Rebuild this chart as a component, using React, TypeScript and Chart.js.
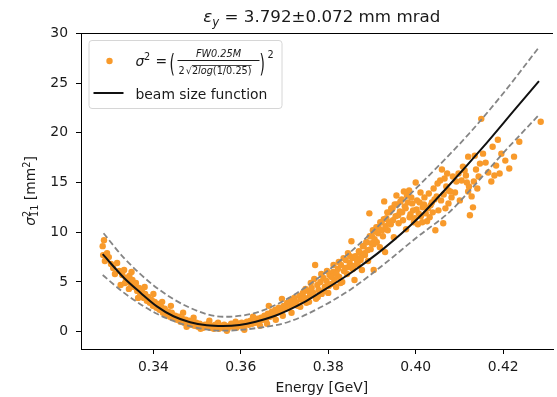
import { useEffect, useRef } from "react";
import { Chart, registerables } from "chart.js";

Chart.register(...registerables);

// ---- data ----
const energyGeV = [
  0.3284, 0.3287, 0.3285, 0.3289, 0.3294, 0.3298, 0.3303, 0.3308, 0.3312, 0.3317, 0.3322, 0.3325, 0.3329, 0.3333, 0.3337,
  0.3341, 0.3345, 0.3349, 0.3352, 0.3356, 0.336, 0.3363, 0.3367, 0.337, 0.3374, 0.3378, 0.3381, 0.3385, 0.3388, 0.3392,
  0.3396, 0.3399, 0.3403, 0.3407, 0.3411, 0.3414, 0.3418, 0.3422, 0.3426, 0.343, 0.3434, 0.3438, 0.3442, 0.3446,
  0.345, 0.3454, 0.3458, 0.3462, 0.3466, 0.347, 0.3474, 0.3478, 0.3482, 0.3486, 0.349, 0.3494, 0.3498, 0.3502, 0.3506,
  0.351, 0.3514, 0.3518, 0.3522, 0.3526, 0.353, 0.3534, 0.3538, 0.3542, 0.3546, 0.355, 0.3554, 0.3558, 0.3562, 0.3566,
  0.357, 0.3574, 0.3578, 0.3582, 0.3586, 0.359, 0.3594, 0.3598, 0.3602, 0.3606, 0.361, 0.3614, 0.3618, 0.3622, 0.3626,
  0.363, 0.3634, 0.3638, 0.3642, 0.3646, 0.365,
  0.3654, 0.3658, 0.3662, 0.3664, 0.3667, 0.3671, 0.3675, 0.3679, 0.3683, 0.3687, 0.3691, 0.3694, 0.3698, 0.3702, 0.3706,
  0.371, 0.3714, 0.3718, 0.3722, 0.3726, 0.373, 0.3734, 0.3738, 0.3742, 0.3746, 0.375, 0.3754, 0.3758, 0.3762, 0.3766,
  0.377, 0.3772, 0.3775, 0.3778,
  0.3782, 0.3785, 0.3789, 0.3792, 0.3796, 0.38, 0.3803, 0.3807, 0.3811, 0.3814, 0.3818, 0.3822, 0.3825, 0.3829, 0.3832,
  0.3836, 0.384, 0.3843, 0.3847, 0.385, 0.3853, 0.3856, 0.386, 0.3863, 0.3867, 0.387, 0.3874, 0.3877, 0.3881, 0.3884,
  0.3888, 0.3891, 0.3894, 0.3897, 0.39, 0.3904, 0.3904,
  0.3908, 0.3911, 0.3915, 0.3918, 0.3922, 0.3925, 0.3928, 0.393, 0.3933, 0.3936, 0.394, 0.3943, 0.3947, 0.395, 0.3954,
  0.3957, 0.3961, 0.3964, 0.3968, 0.3971, 0.3975, 0.3978, 0.398, 0.3985, 0.3988, 0.3992, 0.3996, 0.4, 0.4002, 0.4005,
  0.4009, 0.4012, 0.4016, 0.402, 0.4023, 0.4026, 0.403, 0.4034, 0.4037, 0.4041, 0.4045, 0.4048, 0.4052,
  0.4056, 0.406, 0.4063, 0.4064, 0.4066, 0.407, 0.4075, 0.4075, 0.4079, 0.4085, 0.4093, 0.4098, 0.4105, 0.4108, 0.4115,
  0.412, 0.412, 0.4122, 0.4124, 0.4128, 0.4131, 0.4133, 0.4135, 0.4141, 0.4147, 0.415, 0.4154, 0.4173, 0.4176, 0.418,
  0.4184, 0.4188, 0.4196, 0.4214, 0.4237, 0.4286,
];
const sigma2mm2 = [
  8.6, 9.2, 7.7, 7.1, 7.9, 7.5, 6.8, 6.4, 5.8, 6.9, 6.1, 4.7, 5.7, 6.2, 5.4,
  5.0, 5.6, 4.8, 5.2, 4.5, 4.9, 4.1, 4.4, 3.7, 4.0, 3.4, 3.8, 3.1, 3.5, 2.9,
  3.2, 2.6, 3.0, 2.4, 2.8, 2.2, 2.5, 1.9, 2.3, 1.7, 2.0, 1.5, 1.9, 1.4,
  1.6, 1.2, 1.5, 1.0, 1.3, 0.9, 1.2, 0.8, 1.1, 0.7, 1.0, 0.6, 0.9, 0.5, 0.8,
  0.6, 0.4, 0.7, 0.5, 0.8, 0.4, 0.6, 0.3, 0.7, 0.5, 0.3, 0.6, 0.4, 0.7, 0.5,
  0.3, 0.6, 0.8, 0.5, 0.7, 0.4, 0.8, 0.6, 0.9, 0.5, 0.8, 1.0, 0.7, 1.1, 0.8,
  1.2, 0.9, 1.3, 1.0, 1.4, 1.2,
  1.6, 1.3, 1.8, 2.6, 1.5, 2.0, 1.7, 2.2, 1.9, 2.4, 2.1, 3.3, 2.6, 2.3, 2.9,
  2.5, 3.1, 2.7, 3.4, 3.0, 2.6, 3.6, 3.2, 3.9, 3.4, 2.9, 4.1, 3.6, 4.4, 3.9,
  6.7, 3.3, 4.7, 4.2,
  5.0, 3.8, 5.4, 4.5, 5.1, 3.9, 5.7, 4.8, 6.0, 5.2, 4.5, 6.3, 5.5, 6.7, 5.0,
  6.1, 7.2, 5.8, 6.5, 7.6, 9.1, 6.3, 5.2, 7.4, 6.8, 8.1, 7.2, 6.2, 8.6, 7.7,
  9.0, 7.1, 11.9, 8.3, 9.6, 6.2, 8.8,
  10.1, 9.0, 10.5, 8.5, 11.0, 9.6, 13.1, 8.0, 11.4, 10.2, 12.0, 10.8, 12.4, 9.5, 11.6,
  12.8, 10.9, 12.1, 13.3, 11.2, 12.6, 10.3, 13.7, 14.2, 11.8, 12.9, 11.0, 15.0, 12.3, 10.8,
  13.0, 11.6, 12.5, 13.5, 11.9, 11.1, 13.9, 12.7, 13.0, 14.4, 10.2, 13.6, 12.2,
  15.2, 16.3, 10.9, 13.8, 15.4, 14.6, 12.9, 14.2, 14.1, 15.6, 15.1, 15.9, 15.2, 16.6, 15.7,
  17.6, 14.1, 14.6, 11.7, 13.6, 12.5, 15.1, 17.7, 14.4, 16.9, 21.4, 17.9, 15.1, 18.6, 15.7,
  16.7, 19.3, 17.9, 16.4, 19.1, 21.1,
];

// extra points around the minimum and the left branch
const energyGeVLow = [
  0.3468, 0.3476, 0.3492, 0.3508, 0.3528, 0.3548, 0.3568, 0.3588, 0.3608, 0.3628, 0.3644, 0.366, 0.368,
  0.3696, 0.3716, 0.3736, 0.3748, 0.3756, 0.344, 0.342, 0.34, 0.338, 0.3365, 0.335, 0.3344, 0.3335,
];
const sigma2mm2Low = [
  1.9, 0.5, 1.4, 0.3, 1.1, 0.9, 0.1, 1.0, 0.2, 1.5, 0.6, 0.8, 1.2,
  1.6, 1.9, 2.5, 4.3, 3.0, 2.6, 3.0, 3.8, 4.5, 3.4, 6.0, 4.3, 4.9,
];

// extra points in the dense right branch
const energyGeVHigh = [
  0.376, 0.3768, 0.3776, 0.3784, 0.379, 0.3797, 0.3801, 0.3808, 0.3812, 0.3819,
  0.3824, 0.3828, 0.3835, 0.3839, 0.3845, 0.3849, 0.3855, 0.3858, 0.3862, 0.3866,
  0.3871, 0.3875, 0.3879, 0.3883, 0.3887, 0.389, 0.3895, 0.3899, 0.3902, 0.3906,
  0.391, 0.3914, 0.3919, 0.3923, 0.3927, 0.3931, 0.3935, 0.3939, 0.3944, 0.3948,
  0.3952, 0.3956, 0.396, 0.3965, 0.3969, 0.3973, 0.3977, 0.3982, 0.3986, 0.399,
  0.3994, 0.3998, 0.4003, 0.4007, 0.4011, 0.4015, 0.4019, 0.4028, 0.4032, 0.4039,
  0.4043, 0.405, 0.4058, 0.4068, 0.4072, 0.4082, 0.409, 0.4101, 0.4112, 0.4117,
  0.4138, 0.4144, 0.416, 0.4166, 0.4192, 0.4205, 0.4225,
];
const sigma2mm2High = [
  4.9, 5.3, 3.5, 5.8, 4.1, 6.1, 4.6, 5.5, 6.7, 5.8,
  7.0, 4.9, 7.4, 6.4, 7.9, 6.9, 7.4, 6.6, 7.6, 7.1,
  8.0, 7.5, 8.6, 7.9, 9.0, 8.2, 9.6, 8.9, 10.2, 9.3,
  10.5, 9.9, 11.0, 10.2, 11.3, 10.6, 12.0, 11.0, 12.4, 11.2,
  12.8, 13.7, 11.7, 13.1, 12.0, 14.1, 12.4, 13.0, 11.5, 13.5,
  12.2, 11.4, 13.2, 11.9, 14.0, 11.0, 12.8, 12.4, 11.5, 12.0,
  13.3, 14.9, 13.2, 12.4, 15.9, 13.5, 14.0, 13.2, 16.2, 15.0,
  16.3, 15.6, 17.0, 16.0, 15.9, 17.2, 17.6,
];

const fitEnergy = [0.3284, 0.3333, 0.3371, 0.3408, 0.3446, 0.3484, 0.3522, 0.3559, 0.3597, 0.3634, 0.3672, 0.371, 0.3744, 0.3778, 0.3853, 0.3928, 0.4003, 0.4078, 0.4153, 0.4228, 0.4282];
const fitSigma2 = [7.8, 5.4, 3.9, 2.55, 1.55, 0.95, 0.65, 0.58, 0.68, 1.0, 1.5, 2.2, 2.95, 3.85, 5.95, 8.4, 11.3, 14.8, 18.5, 22.4, 25.2];

const upperEnergy = [0.3286, 0.3333, 0.3408, 0.3484, 0.3559, 0.3634, 0.371, 0.378, 0.3853, 0.3928, 0.4003, 0.4064, 0.4124, 0.4199, 0.4282];
const upperSigma2 = [9.9, 7.4, 4.4, 2.4, 1.5, 1.9, 3.4, 5.5, 8.1, 11.2, 14.5, 17.2, 20.0, 23.9, 28.6];

const lowerEnergy = [0.3284, 0.3333, 0.3408, 0.3484, 0.3559, 0.3634, 0.371, 0.378, 0.3853, 0.3928, 0.4003, 0.4079, 0.4124, 0.4199, 0.4282];
const lowerSigma2 = [5.7, 3.9, 1.8, 0.55, 0.1, 0.35, 1.0, 2.4, 4.3, 6.8, 9.5, 12.1, 14.2, 17.9, 21.8];

const xTicks = [0.34, 0.36, 0.38, 0.4, 0.42];
const yTicks = [0, 5, 10, 15, 20, 25, 30];
const xLimits = [0.32344, 0.4336]; // axes limits (right part cropped)
const xShownMax = 0.43141;
const yLimits = [-1.74, 30.03];

const titleRest = " = 3.792±0.072 mm mrad";
const xLabel = "Energy [GeV]";
const legendLineLabel = "beam size function";

const FAM = '"DejaVu Sans", sans-serif';
const ORANGE = "#f89a2b";
const TEXT = "#1a1a1a";

type Piece = { t: string; f: string; dy: number; adv?: boolean };

function drawPieces(ctx: CanvasRenderingContext2D, pieces: Piece[], x: number, y: number) {
  let cx = x;
  for (const p of pieces) {
    ctx.font = p.f;
    ctx.fillText(p.t, cx, y + p.dy);
    if (p.adv !== false) cx += ctx.measureText(p.t).width;
  }
  return cx;
}
function piecesWidth(ctx: CanvasRenderingContext2D, pieces: Piece[]) {
  let w = 0;
  for (const p of pieces) {
    ctx.font = p.f;
    if (p.adv !== false) w += ctx.measureText(p.t).width;
  }
  return w;
}

const decor = {
  id: "decor",
  afterDraw(chart: any) {
    const ctx: CanvasRenderingContext2D = chart.ctx;
    const a = chart.chartArea;
    const xs = chart.scales.x;
    const axesCx = (a.left + xs.getPixelForValue(xLimits[1])) / 2;
    ctx.save();
    // top spine
    ctx.strokeStyle = "#000";
    ctx.lineWidth = 1;
    ctx.beginPath();
    ctx.moveTo(a.left, Math.round(a.top) + 0.5);
    ctx.lineTo(a.right, Math.round(a.top) + 0.5);
    ctx.stroke();

    ctx.fillStyle = TEXT;
    ctx.textBaseline = "alphabetic";
    ctx.textAlign = "left";

    // title
    const big = 16.7;
    const tp: Piece[] = [
      { t: "ε", f: `italic ${big}px ${FAM}`, dy: 0 },
      { t: "y", f: `italic ${big * 0.7}px ${FAM}`, dy: 3.5 },
      { t: titleRest, f: `${big}px ${FAM}`, dy: 0 },
    ];
    const tw = piecesWidth(ctx, tp);
    drawPieces(ctx, tp, axesCx - tw / 2, 22);

    // x label
    ctx.font = `13.9px ${FAM}`;
    ctx.textAlign = "center";
    ctx.fillText(xLabel, axesCx, 392);
    ctx.textAlign = "left";

    // y label (rotated)
    const n = 13.9;
    const s = n * 0.7;
    const yp: Piece[] = [
      { t: "σ", f: `italic ${n}px ${FAM}`, dy: 0 },
      { t: "2", f: `${s}px ${FAM}`, dy: -5.5, adv: false },
      { t: "11", f: `${s}px ${FAM}`, dy: 3 },
      { t: " [mm", f: `${n}px ${FAM}`, dy: 0 },
      { t: "2", f: `${s}px ${FAM}`, dy: -5.5 },
      { t: "]", f: `${n}px ${FAM}`, dy: 0 },
    ];
    const yw = piecesWidth(ctx, yp);
    ctx.save();
    ctx.translate(35, (a.top + a.bottom) / 2);
    ctx.rotate(-Math.PI / 2);
    drawPieces(ctx, yp, -yw / 2, 0);
    ctx.restore();

    // legend
    const lx = a.left + 7.5, ly = a.top + 7, lw = 193, lh = 68;
    ctx.beginPath();
    (ctx as any).roundRect(lx + 0.5, ly + 0.5, lw, lh, 3);
    ctx.fillStyle = "rgba(255,255,255,0.8)";
    ctx.fill();
    ctx.strokeStyle = "#d6d6d6";
    ctx.lineWidth = 1;
    ctx.stroke();

    ctx.fillStyle = ORANGE;
    ctx.beginPath();
    ctx.arc(lx + 21, ly + 21, 3.2, 0, Math.PI * 2);
    ctx.fill();

    ctx.fillStyle = TEXT;
    const fx = lx + 47;
    const fb = ly + 26;
    ctx.font = `italic ${n}px ${FAM}`;
    ctx.fillText("σ", fx, fb);
    ctx.font = `${s}px ${FAM}`;
    ctx.fillText("2", fx + 8.5, fb - 6);
    ctx.font = `${n}px ${FAM}`;
    ctx.fillText("=", fx + 20, fb);
    // big parentheses
    ctx.save();
    ctx.translate(fx + 34, fb + 6);
    ctx.scale(1, 1.75);
    ctx.font = `${n}px ${FAM}`;
    ctx.fillText("(", 0, 0);
    ctx.restore();
    ctx.save();
    ctx.translate(fx + 124, fb + 6);
    ctx.scale(1, 1.75);
    ctx.font = `${n}px ${FAM}`;
    ctx.fillText(")", 0, 0);
    ctx.restore();
    ctx.font = `${s}px ${FAM}`;
    ctx.fillText("2", fx + 132, fb - 8);
    // fraction
    const barL = fx + 42, barR = fx + 124;
    ctx.fillRect(barL, fb - 6, barR - barL, 1);
    ctx.font = `italic ${s}px ${FAM}`;
    ctx.textAlign = "center";
    ctx.fillText("FW0.25M", (barL + barR) / 2, fb - 9);
    ctx.textAlign = "left";
    const db = fb + 8;
    let dx = barL + 1;
    ctx.font = `${s}px ${FAM}`;
    ctx.fillText("2", dx, db);
    dx += ctx.measureText("2").width + 1;
    ctx.fillText("√", dx, db);
    dx += ctx.measureText("√").width;
    const startOver = dx;
    ctx.fillText("2", dx, db);
    dx += ctx.measureText("2").width;
    ctx.font = `italic ${s}px ${FAM}`;
    ctx.fillText("log", dx, db);
    dx += ctx.measureText("log").width;
    ctx.font = `${s}px ${FAM}`;
    ctx.fillText("(1/0.25)", dx, db);
    dx += ctx.measureText("(1/0.25)").width;
    ctx.fillRect(startOver, db - 9, dx - startOver, 0.8);

    // line entry
    ctx.strokeStyle = "#111";
    ctx.lineWidth = 2;
    ctx.beginPath();
    ctx.moveTo(lx + 5, ly + 53);
    ctx.lineTo(lx + 35, ly + 53);
    ctx.stroke();
    ctx.font = `${n}px ${FAM}`;
    ctx.fillText(legendLineLabel, fx, ly + 59);

    ctx.restore();
  },
};

export default function App() {
  const ref = useRef<HTMLCanvasElement | null>(null);
  useEffect(() => {
    if (!ref.current) return;
    const allE = [...energyGeV, ...energyGeVLow, ...energyGeVHigh];
    const allS = [...sigma2mm2, ...sigma2mm2Low, ...sigma2mm2High];
    const pts = allE.map((x, i) => ({ x, y: allS[i] }));
    const fit = fitEnergy.map((x, i) => ({ x, y: fitSigma2[i] }));
    const up = upperEnergy.map((x, i) => ({ x, y: upperSigma2[i] }));
    const lo = lowerEnergy.map((x, i) => ({ x, y: lowerSigma2[i] }));
    const dashed = {
      type: "line" as const,
      showLine: true,
      pointRadius: 0,
      borderColor: "#858585",
      borderWidth: 1.8,
      borderDash: [6, 3],
      cubicInterpolationMode: "monotone" as const,
      fill: false,
      order: 2,
    };
    const chart = new Chart(ref.current, {
      type: "scatter",
      data: {
        datasets: [
          {
            type: "line",
            data: fit,
            showLine: true,
            pointRadius: 0,
            borderColor: "#111",
            borderWidth: 2,
            cubicInterpolationMode: "monotone",
            fill: false,
            order: 1,
          } as any,
          { ...dashed, data: up } as any,
          { ...dashed, data: lo } as any,
          {
            type: "scatter",
            data: pts,
            pointRadius: 3.2,
            pointBackgroundColor: ORANGE,
            pointBorderWidth: 0,
            borderWidth: 0,
            order: 3,
          } as any,
        ],
      },
      options: {
        animation: false,
        responsive: false,
        devicePixelRatio: 1,
        layout: { padding: { left: 0, top: 33, right: 0, bottom: 0 } },
        plugins: { legend: { display: false }, title: { display: false }, tooltip: { enabled: false } },
        scales: {
          x: {
            type: "linear",
            min: xLimits[0],
            max: xShownMax,
            afterBuildTicks: (sc: any) => {
              sc.ticks = xTicks.map((v) => ({ value: v }));
            },
            afterFit: (sc: any) => {
              sc.height = 48;
            },
            ticks: {
              callback: (v: any) => Number(v).toFixed(2),
              font: { family: FAM, size: 13.9 },
              color: TEXT,
              padding: 5,
              maxRotation: 0,
              autoSkip: false,
            },
            grid: { display: true, drawOnChartArea: false, drawTicks: true, tickLength: 5, color: "#000", lineWidth: 1 },
            border: { display: true, color: "#000", width: 1 },
          },
          y: {
            type: "linear",
            min: yLimits[0],
            max: yLimits[1],
            afterBuildTicks: (sc: any) => {
              sc.ticks = yTicks.map((v) => ({ value: v }));
            },
            afterFit: (sc: any) => {
              sc.width = 81;
            },
            ticks: {
              callback: (v: any) => String(v),
              font: { family: FAM, size: 13.9 },
              color: TEXT,
              padding: 8,
              autoSkip: false,
            },
            grid: { display: true, drawOnChartArea: false, drawTicks: true, tickLength: 5, color: "#000", lineWidth: 1 },
            border: { display: true, color: "#000", width: 1 },
          },
        },
      },
      plugins: [decor],
    });
    return () => chart.destroy();
  }, []);
  return (
    <div style={{ position: "fixed", left: 0, top: 0, width: 557, height: 397, overflow: "hidden", background: "#fff" }}>
      <canvas ref={ref} width={557} height={397} style={{ display: "block", width: 557, height: 397 }} />
    </div>
  );
}
